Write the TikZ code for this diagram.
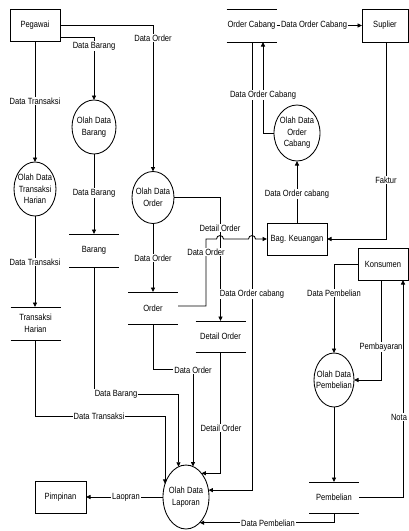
\documentclass[tikz,border=0pt]{standalone}
\usepackage{fontspec}
\setmainfont{Liberation Sans}[FakeStretch=0.84]
\usetikzlibrary{arrows.meta,shapes.geometric,calc}
\begin{document}
\begin{tikzpicture}[x=1pt,y=-1pt,
  every node/.style={font=\fontsize{9}{11.5}\selectfont, inner sep=0pt, outer sep=0pt},
  ent/.style={draw, line width=0.85pt, minimum height=32pt, align=center},
  proc/.style={draw, ellipse, line width=0.85pt},
  ptext/.style={align=center},
  store/.style={minimum width=50pt, minimum height=32pt, align=center},
  flow/.style={draw, line width=0.85pt, -{Triangle[length=4.5pt,width=4pt]}},
  plain/.style={draw, line width=0.85pt},
  lbl/.style={fill=white, inner xsep=1pt, inner ysep=1pt}
]
\useasboundingbox (0,0) rectangle (409,531);

% external entities
\node[ent, minimum width=50pt] (peg) at (35,25) {Pegawai};
\node[ent, minimum width=46pt, minimum height=33pt] (sup) at (385,25.5) {Suplier};
\node[ent, minimum width=60pt] (bk) at (297,239) {Bag. Keuangan};
\node[ent, minimum width=50pt] (kon) at (383,264) {Konsumen};
\node[ent, minimum width=51pt] (pim) at (60.5,497) {Pimpinan};

% processes
\node[proc, minimum width=44pt, minimum height=54pt, label={[ptext]center:{Olah Data\\Barang}}] (odb) at (94,127) {};
\node[proc, minimum width=42pt, minimum height=54pt, label={[ptext]center:{Olah Data\\Transaksi\\Harian}}] (odt) at (35,189) {};
\node[proc, minimum width=42pt, minimum height=52pt, label={[ptext]center:{Olah Data\\Order}}] (odo) at (153,197.5) {};
\node[proc, minimum width=46pt, minimum height=56pt, label={[ptext]center:{Olah Data\\Order\\Cabang}}] (odoc) at (297,133) {};
\node[proc, minimum width=40pt, minimum height=54pt, label={[ptext]center:{Olah Data\\Pembelian}}] (odp) at (334,380) {};
\node[proc, minimum width=46pt, minimum height=64pt, label={[ptext]center:{Olah Data\\Laporan}}] (lap) at (186,497) {};

% data stores
\node[store, minimum height=33pt] (barang) at (94,250.5) {Barang};
\node[store, minimum height=33pt] (th) at (35.5,323.5) {Transaksi\\Harian};
\node[store] (order) at (153,308) {Order};
\node[store, minimum height=31pt] (detail) at (220.5,336.5) {Detail Order};
\node[store, minimum height=33pt] (oc) at (251.5,25.5) {Order Cabang};
\node[store, minimum height=31pt] (pemb) at (334,497.5) {Pembelian};
\foreach \s in {barang,th,order,detail,oc,pemb}
  \draw[plain] (\s.north west) -- (\s.north east) (\s.south west) -- (\s.south east);

% flows
\draw[flow] (peg.east) -| (odo.north);
\draw[flow] ($(peg.east)+(0,12)$) -| (odb.north);
\draw[flow] (peg.south) -- (odt.north);
\draw[flow] (odb.south) -- (barang.north);
\draw[flow] (odt.south) -- (odt.south |- th.north);
\draw[flow] (odo.south) -- (order.north);
\draw[flow] (odo.east) -| (detail.north);
\draw[flow] ($(order.east)+(0,-2)$) -- ++(28,0) |- (216.5,239) arc(180:360:3.5) -- (248.5,239) arc(180:360:3.5) -- (bk.west);
\draw[flow] (oc.east) -- (sup.west);
\draw[flow] ($(sup.south)+(1,0)$) |- (bk.east);
\draw[flow] (odoc.west) -| ($(oc.south)+(11.5,0)$);
\draw[flow] (bk.north) -- (odoc.south);
\draw[flow] ($(oc.south)+(0.5,0)$) |- (lap.17.3);
\draw[flow] (kon.west) -| (odp.north);
\draw[flow] ($(kon.south)+(-2,0)$) |- (odp.east);
\draw[flow] (pemb.east) -| ($(kon.south)+(20,0)$);
\draw[flow] (odp.south) -- (pemb.north);
\draw[flow] (pemb.south) |- (lap.-62.7);
\draw[flow] (th.south) -- ++(0,76.5) -| (lap.148.2);
\draw[flow] (barang.south) -- ++(0,127.5) -| (lap.104.9);
\draw[flow] (order.south) -- ++(0,45) -| (lap.77.1);
\draw[flow] (detail.south) |- (lap.57.65);
\draw[flow] (lap.west) -- (pim.east);

% labels
\node[lbl] (l1) at (153,38) {Data Order};
\node[lbl] (l2) at (94,46) {Data Barang};
\node[lbl] (l3) at (35,101) {Data Transaksi};
\node[lbl] (l4) at (94,193) {Data Barang};
\node[lbl] (l5) at (35,262) {Data Transaksi};
\node[lbl] (l6) at (153,258) {Data Order};
\node[lbl] (l7) at (220,228) {Detail Order};
\node[lbl] (l8) at (206,252) {Data Order};
\node[lbl] (l9) at (314,25) {Data Order Cabang};
\node[lbl] (l10) at (386,180) {Faktur};
\node[lbl] (l11) at (263,95) {Data Order Cabang};
\node[lbl] (l12) at (297,194) {Data Order cabang};
\node[lbl] (l13) at (252,294) {Data Order cabang};
\node[lbl] (l14) at (334,293) {Data Pembelian};
\node[lbl] (l15) at (381,347) {Pembayaran};
\node[lbl] (l16) at (399,417) {Nota};
\node[lbl] (l17) at (268,523) {Data Pembelian};
\node[lbl] (l18) at (99,416) {Data Transaksi};
\node[lbl] (l19) at (116,394) {Data Barang};
\node[lbl] (l20) at (193,370) {Data Order};
\node[lbl] (l21) at (221,428) {Detail Order};
\node[lbl] (l22) at (126,497) {Laopran};
\end{tikzpicture}
\end{document}
